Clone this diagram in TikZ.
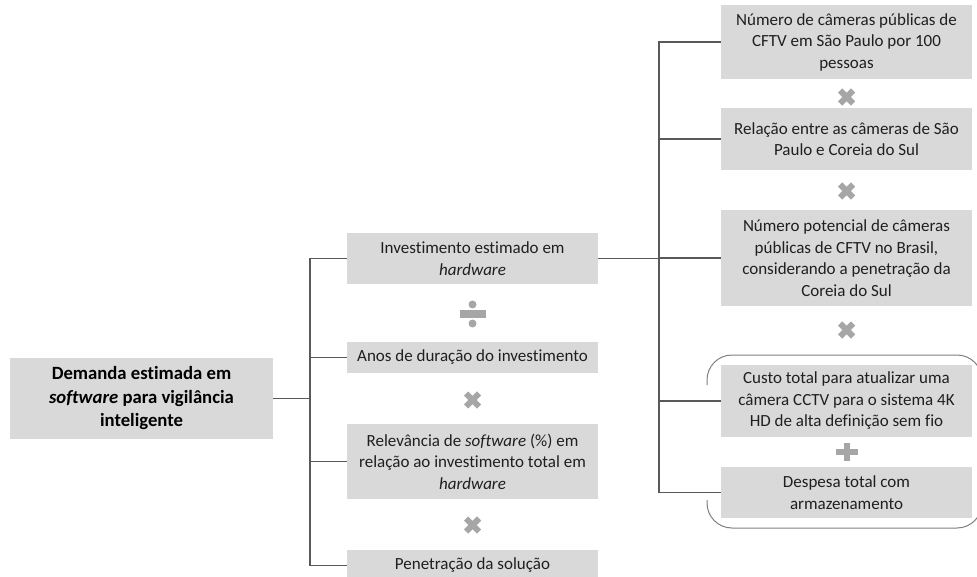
\documentclass[tikz,border=0pt]{standalone}
\usepackage{fontspec}
\setmainfont[Ligatures=NoCommon]{Carlito}
\definecolor{boxgray}{HTML}{D9D9D9}
\definecolor{linegray}{HTML}{595959}
\definecolor{bracegray}{HTML}{7F7F7F}
\definecolor{opgray}{HTML}{A6A6A6}
\definecolor{txt}{HTML}{1F1F1F}
\tikzset{
  box/.style={fill=boxgray, text=txt, align=center, inner sep=0pt,
    font=\fontsize{17}{21.5}\selectfont, minimum width=251pt},
  rootbox/.style={fill=boxgray, text=black, align=center, inner sep=0pt,
    font=\fontsize{18.7}{23.5}\selectfont\bfseries, minimum width=263pt, minimum height=81pt},
  conn/.style={draw=linegray, line width=1.6pt},
  brace/.style={draw=bracegray, line width=1pt, rounded corners=25pt},
  op/.style={draw=opgray},
  timesop/.pic={\draw[op, line width=6pt] (-6.5,-6.5) -- (6.5,6.5) (-6.5,6.5) -- (6.5,-6.5);},
  plusop/.pic={\draw[op, line width=6pt] (-11,0) -- (11,0) (0,-9) -- (0,9);},
  divop/.pic={\draw[op, line width=7.5pt] (-13,0) -- (13,0);
    \fill[opgray] (0,-9.5) circle[radius=4pt] (0,9.5) circle[radius=4pt];}
}
\begin{document}
\begin{tikzpicture}[x=1pt,y=-1pt]
\useasboundingbox (0,0) rectangle (977,577);
% root
\node[rootbox] (root) at (141.5,398.5) {Demanda estimada em\\\textit{software} para vigilância\\inteligente};
% middle column
\node[box, minimum height=51pt] (inv) at (472.5,258.5) {Investimento estimado em\\\textit{hardware}};
\node[box, minimum height=31pt] (anos) at (472.5,357.5) {Anos de duração do investimento};
\node[box, minimum height=75pt] (rel) at (472.5,461.5) {Relevância de \textit{software} (\%) em\\relação ao investimento total em\\\textit{hardware}};
\node[box, minimum height=31pt] (pen) at (472.5,565.5) {Penetração da solução};
% right column
\node[box, minimum height=74pt] (n1) at (846.5,42) {Número de câmeras públicas de\\CFTV em São Paulo por 100\\pessoas};
\node[box, minimum height=62pt] (n2) at (846.5,139) {Relação entre as câmeras de São\\Paulo e Coreia do Sul};
\node[box, minimum height=96pt] (n3) at (846.5,258) {Número potencial de câmeras\\públicas de CFTV no Brasil,\\considerando a penetração da\\Coreia do Sul};
\node[box, minimum height=72pt] (n4) at (846.5,401) {Custo total para atualizar uma\\câmera CCTV para o sistema 4K\\HD de alta definição sem fio};
\node[box, minimum height=51pt] (n5) at (846.5,492.5) {Despesa total com\\armazenamento};
% operators
\pic at (472.5,314) {divop};
\pic at (472.5,400) {timesop};
\pic at (472.5,525) {timesop};
\pic at (846.5,97) {timesop};
\pic at (846.5,191) {timesop};
\pic at (846.5,330) {timesop};
\pic at (846.5,452) {plusop};
% connectors
\coordinate (j1) at (310,398.5);
\coordinate (j2) at (659,258.5);
\draw[conn] (root.east) -- (j1);
\draw[conn] (inv.west) -| (j1);
\draw[conn] (anos.west) -| (j1);
\draw[conn] (rel.west) -| (j1);
\draw[conn] (pen.west) -| (j1);
\draw[conn] (inv.east) -- (j2);
\draw[conn] (n1.west) -| (j2);
\draw[conn] (n2.west) -| (j2);
\draw[conn] (n3.west) -| (j2);
\draw[conn] (n4.west) -| (j2);
\draw[conn] (n5.west) -| (j2);
% bracket around the sum
\draw[brace] (707,385) -- (707,355) -- (982,355) -- (982,528) -- (707,528) -- (707,500);
\end{tikzpicture}
\end{document}
